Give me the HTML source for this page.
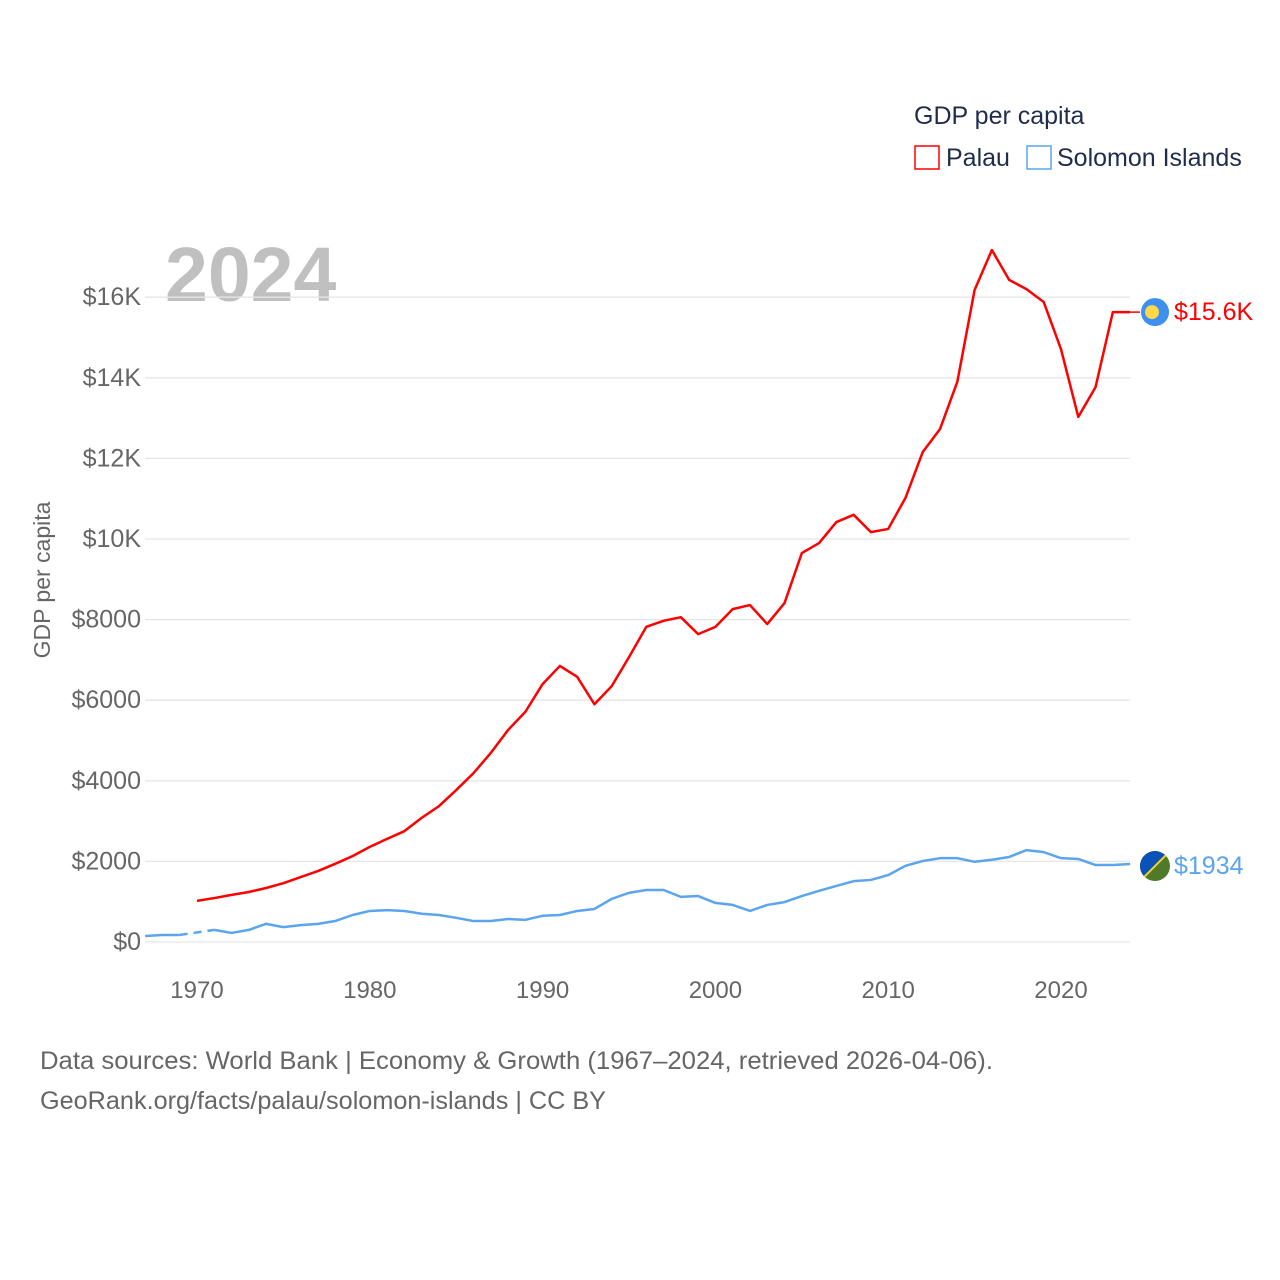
<!DOCTYPE html>
<html><head><meta charset="utf-8"><style>
body{margin:0;background:#fff;font-family:"Liberation Sans",sans-serif}
</style></head><body>
<svg width="1280" height="1280" viewBox="0 0 1280 1280" style="display:block">
<text x="914" y="124" font-size="25" fill="#1f2d4a">GDP per capita</text>
<rect x="915" y="146" width="24" height="23" fill="none" stroke="#f00" stroke-width="1.5"/>
<text x="946" y="166" font-size="25" fill="#1f2d4a">Palau</text>
<rect x="1027" y="146" width="24" height="23" fill="none" stroke="#5aa5ee" stroke-width="1.5"/>
<text x="1057" y="166" font-size="25" fill="#1f2d4a">Solomon Islands</text>
<text x="165" y="301" font-size="77" font-weight="bold" fill="#c0c0c0">2024</text>
<text transform="translate(50,580) rotate(-90)" text-anchor="middle" font-size="23" fill="#666">GDP per capita</text>
<g id="grid"></g><g id="yt"></g><g id="xt"></g><g id="lines"></g>
<text x="40" y="1069" font-size="25" fill="#666" textLength="953" lengthAdjust="spacingAndGlyphs">Data sources: World Bank | Economy &amp; Growth (1967–2024, retrieved 2026-04-06).</text>
<text x="40" y="1109" font-size="25" fill="#666" textLength="566" lengthAdjust="spacingAndGlyphs">GeoRank.org/facts/palau/solomon-islands | CC BY</text>
</svg>
<script>
const years=[];for(let y=1967;y<=2024;y++)years.push(y);
const palau=[null,null,null,1020,1090,1170,1240,1340,1460,1610,1760,1940,2130,2360,2560,2750,3080,3370,3770,4190,4690,5260,5710,6400,6850,6580,5900,6350,7070,7820,7970,8060,7640,7820,8260,8360,7890,8410,9650,9900,10420,10600,10170,10250,11020,12160,12730,13900,16180,17170,16430,16200,15880,14710,13030,13770,15630,15630];
const solomon=[150,175,175,null,300,225,300,450,370,420,450,520,670,770,790,770,700,670,600,520,520,570,550,650,670,770,820,1070,1220,1290,1290,1120,1140,970,920,770,920,990,1140,1270,1390,1510,1540,1660,1890,2010,2080,2080,1990,2040,2110,2280,2230,2080,2060,1910,1910,1934];
const yTicks=[0,2000,4000,6000,8000,10000,12000,14000,16000];
const yLabels=["$0","$2000","$4000","$6000","$8000","$10K","$12K","$14K","$16K"];
const xTicks=[1970,1980,1990,2000,2010,2020];
const X=y=>197+(y-1970)*17.28, Y=v=>942-v*0.0403;
const NS="http://www.w3.org/2000/svg";
function mk(t,a,p){const e=document.createElementNS(NS,t);for(const k in a)e.setAttribute(k,a[k]);document.getElementById(p).appendChild(e);return e;}
yTicks.forEach((v,i)=>{
 const l=mk('line',{x1:145,x2:1130,y1:Y(v),y2:Y(v),stroke:'#e6e6e6','stroke-width':1.3},'grid');
 
 
 const t=mk('text',{x:141,y:Y(v)+8,'text-anchor':'end','font-size':25,fill:'#666'},'yt');t.textContent=yLabels[i];
 
 
});
xTicks.forEach(yr=>{
 const t=mk('text',{x:X(yr),y:998,'text-anchor':'middle','font-size':24,fill:'#666'},'xt');t.textContent=yr;
 
 
});
function draw(vals,color,name){
 let segs=[],cur=[];
 vals.forEach((v,i)=>{if(v==null){if(cur.length)segs.push(cur);cur=[];}else cur.push([X(years[i]),Y(v)]);});
 if(cur.length)segs.push(cur);
 segs.forEach(s=>{const p=mk('path',{d:'M'+s.map(q=>q.join(',')).join('L'),fill:'none',stroke:color,'stroke-width':2.5,'stroke-linejoin':'round'},'lines');
  
  });
 for(let i=1;i<vals.length-1;i++){if(vals[i]==null&&vals[i-1]!=null&&vals[i+1]!=null){
  const d=mk('path',{d:`M${X(years[i-1])},${Y(vals[i-1])}L${X(years[i+1])},${Y(vals[i+1])}`,fill:'none',stroke:color,'stroke-width':2.5,'stroke-dasharray':'8,6'},'lines');
  
  }}
}
draw(palau,'#f00','palau');draw(solomon,'#5aa5ee','solomon');
const pl=palau[palau.length-1],sl=solomon[solomon.length-1],lx=X(2024);
let e=mk('path',{d:`M${lx},${Y(pl)}L1140,${Y(pl)}`,stroke:'#f00','stroke-width':1.5,fill:'none'},'lines');


e=mk('circle',{cx:1155,cy:Y(pl),r:14,fill:'#3d8ff0'},'lines');


mk('circle',{cx:1152,cy:Y(pl),r:7,fill:'#ffd84a'},'lines');
e=mk('text',{x:1174,y:Y(pl)+8,'font-size':25,fill:'#f00'},'lines');e.textContent='$15.6K';


const sy=Y(sl)+2;
e=mk('circle',{cx:1155,cy:sy,r:15,fill:'#4f7a2a'},'lines');


mk('path',{d:`M${1155-15},${sy}A15,15 0 0 1 ${1155+10.6},${sy-10.6}L${1155-10.6},${sy+10.6}A15,15 0 0 1 ${1140},${sy}Z`,fill:'#0a52b8'},'lines');
mk('line',{x1:1155+10.6,y1:sy-10.6,x2:1155-10.6,y2:sy+10.6,stroke:'#f5d02a','stroke-width':2},'lines');
e=mk('text',{x:1174,y:sy+8,'font-size':25,fill:'#5aa5ee'},'lines');e.textContent='$1934';


</script>
</body></html>
